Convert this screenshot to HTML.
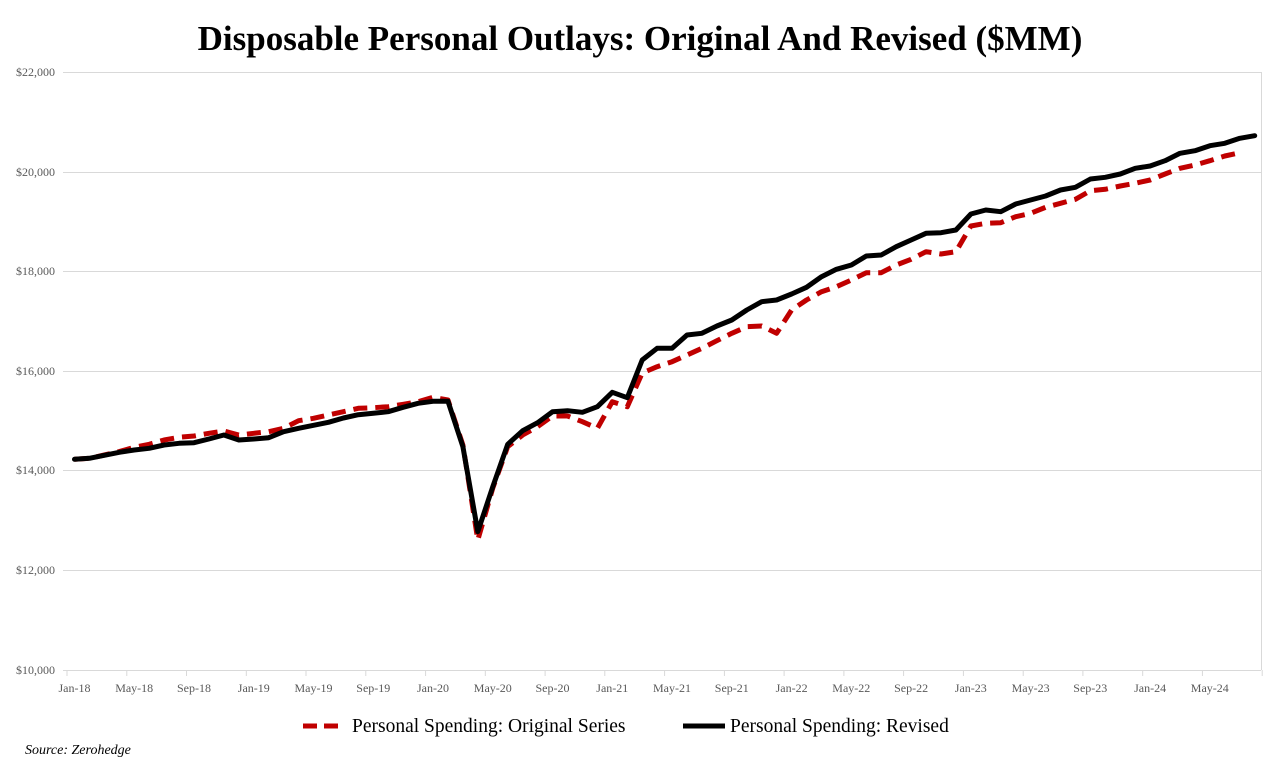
<!DOCTYPE html>
<html><head><meta charset="utf-8"><style>
html,body{margin:0;padding:0;background:#fff;}
svg{display:block;font-family:"Liberation Serif",serif;}
</style></head><body>
<svg id="s" width="1280" height="774" viewBox="0 0 1280 774">
<rect width="1280" height="774" fill="#fff"/>
<text x="640" y="50" text-anchor="middle" font-size="35" font-weight="bold" fill="#000">Disposable Personal Outlays: Original And Revised ($MM)</text>
<g stroke="#d9d9d9" stroke-width="1">
<line x1="63" x2="1261" y1="72.5" y2="72.5"/>
<line x1="63" x2="1261" y1="172.5" y2="172.5"/>
<line x1="63" x2="1261" y1="271.5" y2="271.5"/>
<line x1="63" x2="1261" y1="371.5" y2="371.5"/>
<line x1="63" x2="1261" y1="470.5" y2="470.5"/>
<line x1="63" x2="1261" y1="570.5" y2="570.5"/>
<line x1="63" x2="1261" y1="670.5" y2="670.5"/>
<line x1="1261.5" x2="1261.5" y1="72" y2="670"/>
</g>
<g id="ticks" stroke="#d9d9d9" stroke-width="1"></g>
<g font-size="12" fill="#595959" text-anchor="end">
<text x="55" y="76">$22,000</text>
<text x="55" y="176">$20,000</text>
<text x="55" y="275">$18,000</text>
<text x="55" y="375">$16,000</text>
<text x="55" y="474">$14,000</text>
<text x="55" y="574">$12,000</text>
<text x="55" y="674">$10,000</text>
</g>
<g font-size="12" fill="#595959" text-anchor="middle">
<text x="74.5" y="692">Jan-18</text>
<text x="134.2" y="692">May-18</text>
<text x="194" y="692">Sep-18</text>
<text x="253.8" y="692">Jan-19</text>
<text x="313.5" y="692">May-19</text>
<text x="373.3" y="692">Sep-19</text>
<text x="433" y="692">Jan-20</text>
<text x="492.8" y="692">May-20</text>
<text x="552.5" y="692">Sep-20</text>
<text x="612.3" y="692">Jan-21</text>
<text x="672" y="692">May-21</text>
<text x="731.8" y="692">Sep-21</text>
<text x="791.6" y="692">Jan-22</text>
<text x="851.3" y="692">May-22</text>
<text x="911.1" y="692">Sep-22</text>
<text x="970.8" y="692">Jan-23</text>
<text x="1030.6" y="692">May-23</text>
<text x="1090.3" y="692">Sep-23</text>
<text x="1150.1" y="692">Jan-24</text>
<text x="1209.8" y="692">May-24</text>
</g>
<polyline id="red" fill="none" stroke="#c00000" stroke-width="5" stroke-dasharray="14,8" stroke-linejoin="round"/>
<polyline id="blk" fill="none" stroke="#000" stroke-width="5" stroke-linejoin="round" stroke-linecap="round"/>
<line x1="303" x2="345" y1="726" y2="726" stroke="#c00000" stroke-width="5" stroke-dasharray="14,7"/>
<text x="352" y="732" font-size="19.5" fill="#000">Personal Spending: Original Series</text>
<line x1="683" x2="725" y1="726" y2="726" stroke="#000" stroke-width="5"/>
<text x="730" y="732" font-size="19.5" fill="#000">Personal Spending: Revised</text>
<text x="25" y="754" font-size="14" font-style="italic" fill="#000">Source: Zerohedge</text>
</svg>
<script>
var B=[459.3,458.3,455.3,452.3,450,448.3,445,443.3,442.7,439,435,440,439,437.7,431.7,428.3,425.3,422.3,418,414.7,413.3,411.7,407.3,403.3,401.3,401.3,446.7,531.7,486.7,444.3,430.7,422.7,411.7,410.7,412.3,406.7,392.3,397.7,360,348.3,348.3,335,333.3,326,320,310,301.7,300,294,287.3,276.7,269.3,265,256,255,246.7,240,233.3,232.7,230,214,210,211.7,204,200,196,190,187.3,179,177.3,174,168.3,166,160.7,153.3,150.7,145.7,143.3,138.3,135.7];
var R=[459.3,458.3,455,451.5,447.3,444.3,440,437.3,436,433.3,431,435,433.3,431.7,428.3,420.7,418.3,415,411.7,408.3,407.7,406.7,404.3,401.7,397.3,400,445,540,488,446.7,435,426.7,416,416,421.7,428.3,401.7,406.7,373,366.7,361.7,355,348.3,340.7,333.3,326.7,326,333.3,310,300,291.7,286.7,280,272.7,272.7,265,259.3,251.7,254,251.7,226,223.3,222.7,216.7,213.3,207.3,203.3,199.3,190.7,189.3,186,183.3,180,174,168.3,165,160.7,156,152.7];
function x(i){return 67+14.94*(i+0.5);}
function pts(a){return a.map(function(y,i){return x(i).toFixed(1)+","+y;}).join(" ");}
document.getElementById("blk").setAttribute("points",pts(B));
document.getElementById("red").setAttribute("points",pts(R));
var g=document.getElementById("ticks"),s="";
for(var k=0;k<=20;k++){var t=(67+14.94*4*k).toFixed(1);s+='<line x1="'+t+'" x2="'+t+'" y1="670" y2="676"/>';}
g.innerHTML=s;
</script>
</body></html>
